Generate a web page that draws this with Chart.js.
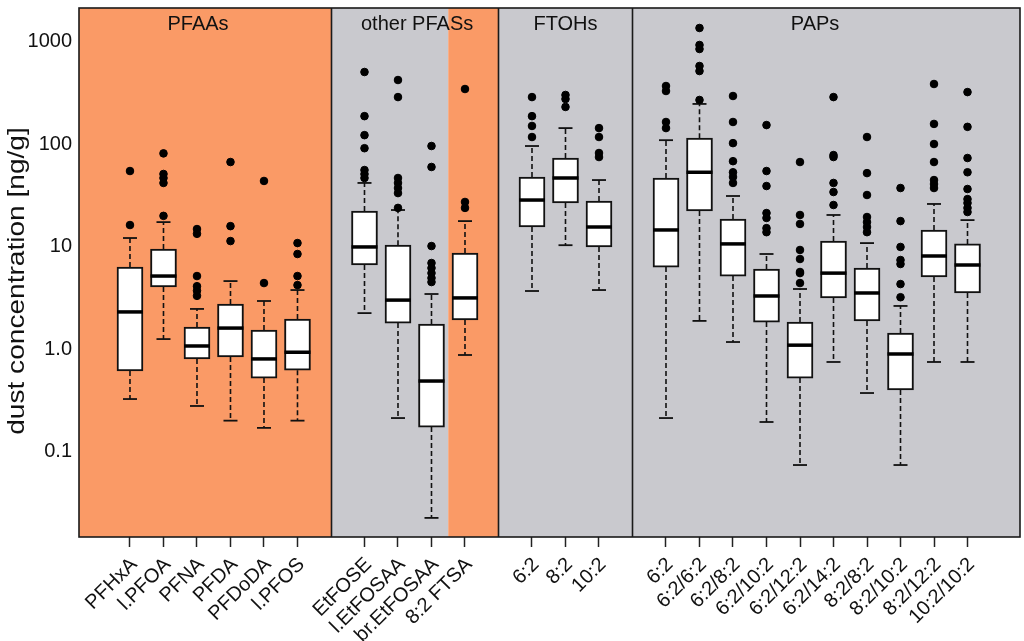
<!DOCTYPE html>
<html>
<head>
<meta charset="utf-8">
<script src="https://cdn.jsdelivr.net/npm/chart.js@4/dist/chart.umd.min.js"></script>
<style>
    html, body { margin: 0; padding: 0; background: #fff; }
    #wrap { width: 1024px; height: 641px; }
</style>
</head>
<body>
<div id="wrap"><canvas id="chart" width="1024" height="641"></canvas></div>
<script>
// compounds and their slot on the x axis (gaps between groups)
const labels = ["PFHxA", "l.PFOA", "PFNA", "PFDA", "PFDoDA", "l.PFOS",
    "EtFOSE", "l.EtFOSAA", "br.EtFOSAA", "8:2 FTSA",
    "6:2", "8:2", "10:2",
    "6:2", "6:2/6:2", "6:2/8:2", "6:2/10:2", "6:2/12:2", "6:2/14:2", "8:2/8:2", "8:2/10:2", "8:2/12:2", "10:2/10:2"];
const positions = [1, 2, 3, 4, 5, 6, 8, 9, 10, 11, 13, 14, 15, 17, 18, 19, 20, 21, 22, 23, 24, 25, 26];

// box statistics, ng/g
const whiskerLow = [0.325, 1.25, 0.278, 0.2, 0.17, 0.2, 2.24, 0.212, 0.0225, 0.874, 3.68, 10.3, 3.76, 0.212, 1.88, 1.17, 0.194, 0.0738, 0.747, 0.372, 0.0738, 0.747, 0.747];
const q1 = [0.61, 4.03, 0.80, 0.835, 0.52, 0.62, 6.6, 1.79, 0.173, 1.92, 15.5, 26.6, 9.9, 6.3, 22.2, 5.15, 1.83, 0.52, 3.15, 1.88, 0.398, 5.04, 3.52];
const median = [2.3, 5.15, 1.07, 1.6, 0.80, 0.93, 9.9, 3.0, 0.487, 3.15, 28.4, 46.6, 15.5, 14.5, 53, 10.6, 3.29, 1.09, 5.5, 3.52, 0.894, 8.08, 6.6];
const q3 = [6.3, 9.45, 1.64, 2.75, 1.53, 1.96, 22.2, 10.3, 1.75, 8.64, 47.7, 73, 27.8, 46.6, 114, 18.5, 6.03, 1.83, 11.3, 6.17, 1.43, 14.5, 10.6];
const whiskerHigh = [12.1, 17.3, 2.46, 4.6, 2.94, 3.76, 41.7, 22.7, 3.44, 17.7, 95.6, 143, 44.5, 109, 246, 31.1, 8.45, 3.85, 20.3, 10.8, 2.63, 26, 18.1];
const outliers = [
    [54.5, 16.2],
    [81, 51, 46.6, 41.7, 19.9],
    [14.8, 13.3, 5.15, 4.1, 3.7, 3.3],
    [66.7, 15.8, 11.3],
    [43.6, 4.4],
    [10.8, 8.45, 5.15, 4.2],
    [504, 187, 122, 91, 55.7, 50.9, 46.6],
    [421, 287, 46.6, 41.7, 37.2, 33.2, 23.8],
    [95.6, 59.7, 10.1, 6.9, 6.17, 5.5, 4.93, 4.5],
    [344, 27.2, 23.8],
    [287, 187, 150, 117],
    [301, 275, 230],
    [143, 117, 81.7, 74.6],
    [368, 329, 164, 143],
    [1355, 925, 845, 577, 515, 269],
    [294, 164, 102, 68, 53, 47.7, 41.7],
    [153, 54.5, 38.9, 21.2, 19, 15.1, 13.8],
    [66.7, 20.3, 16.6, 9.25, 7.55, 5.64, 5.5, 4.4],
    [287, 78, 74.6, 41.7, 34, 25.4],
    [117, 52, 31.8, 19.4, 17.3, 15.5, 13.8],
    [37.2, 17.7, 9.9, 7.38, 6.75, 4.3, 3.2],
    [385, 157, 100, 66.7, 44.5, 40.7, 37.2],
    [321, 147, 73, 53, 36.4, 29, 26.6, 23.8, 21.7]
];

// y ticks
const yTicks = [0.1, 1, 10, 100, 1000];
const yTickLabels = ["0.1", "1.0", "10", "100", "1000"];
const yTitle = "dust concentration [ng/g]";

// compound groups
const groupNames = ["PFAAs", "other PFASs", "FTOHs", "PAPs"];
const groupLabelX = [3.03, 9.57, 14.0, 21.45];
const bandFrom = [-0.522, 7, 10.5, 12, 16];
const bandTo = [7, 10.5, 12, 16, 27.567];
const bandKind = ["orange", "gray", "orange", "gray", "gray"];
const separators = [7, 12, 16];

const ORANGE = "#fa9a66";
const GRAY = "#c9c9ce";
const FONT = "'Liberation Sans', Arial, Helvetica, sans-serif";

const boxData = positions.map((x, i) => ({ x, y: [q1[i], q3[i]] }));
const medianData = positions.map((x, i) => ({ x, y: median[i] }));
const capData = positions.flatMap((x, i) => [{ x, y: whiskerLow[i] }, { x, y: whiskerHigh[i] }]);
const whiskerData = positions.flatMap((x, i) => [
    { x, y: q3[i] }, { x, y: whiskerHigh[i] }, { x, y: null },
    { x, y: q1[i] }, { x, y: whiskerLow[i] }, { x, y: null }
]);
const outlierData = positions.flatMap((x, i) => outliers[i].map(v => ({ x, y: v })));

const panels = {
    id: "panels",
    beforeDatasetsDraw(chart) {
        const { ctx, chartArea: a, scales: { x } } = chart;
        ctx.save();
        bandFrom.forEach((f, i) => {
            const l = Math.max(x.getPixelForValue(f), a.left);
            const r = Math.min(x.getPixelForValue(bandTo[i]), a.right);
            ctx.fillStyle = bandKind[i] === "orange" ? ORANGE : GRAY;
            ctx.fillRect(l, a.top, r - l, a.bottom - a.top);
        });
        ctx.strokeStyle = "#1a1a1a";
        ctx.lineWidth = 1.6;
        separators.forEach(s => {
            const px = Math.round(x.getPixelForValue(s)) + 0.5;
            ctx.beginPath();
            ctx.moveTo(px, a.top);
            ctx.lineTo(px, a.bottom);
            ctx.stroke();
        });
        ctx.strokeRect(a.left, a.top, a.right - a.left, a.bottom - a.top);

        ctx.fillStyle = "#111";
        ctx.font = "20px " + FONT;
        ctx.textAlign = "center";
        ctx.textBaseline = "middle";
        groupNames.forEach((g, i) => ctx.fillText(g, x.getPixelForValue(groupLabelX[i]), a.top + 16));

        // y axis title (a little stretched along its length, like the original)
        ctx.translate(17, 281);
        ctx.rotate(-Math.PI / 2);
        ctx.scale(1.17, 1);
        ctx.font = "24px " + FONT;
        ctx.fillText(yTitle, 0, 0);
        ctx.restore();
    }
};

new Chart(document.getElementById("chart"), {
    type: "bar",
    data: {
        datasets: [
            {
                type: "scatter",
                data: outlierData,
                backgroundColor: "#000",
                borderColor: "#000",
                pointRadius: 3.8,
                order: 0
            },
            {
                type: "scatter",
                data: medianData,
                pointStyle: "line",
                pointRadius: 13,
                borderColor: "#000",
                borderWidth: 3.5,
                order: 1
            },
            {
                type: "bar",
                data: boxData,
                backgroundColor: "#fff",
                borderColor: "#111",
                borderWidth: 2,
                borderSkipped: false,
                barThickness: 26,
                order: 2
            },
            {
                type: "scatter",
                data: capData,
                pointStyle: "line",
                pointRadius: 7,
                borderColor: "#111",
                borderWidth: 1.8,
                order: 3
            },
            {
                type: "line",
                data: whiskerData,
                borderColor: "#111",
                borderWidth: 1.6,
                borderDash: [5, 3],
                pointRadius: 0,
                spanGaps: false,
                order: 4
            }
        ]
    },
    options: {
        responsive: false,
        animation: false,
        events: [],
        layout: { autoPadding: false, padding: { left: 0, top: 8, right: 4, bottom: 0 } },
        plugins: { legend: { display: false }, tooltip: { enabled: false } },
        scales: {
            x: {
                type: "linear",
                min: -0.522,
                max: 27.567,
                bounds: "data",
                offset: false,
                border: { display: false },
                grid: { offset: false, drawOnChartArea: false, drawTicks: true, tickLength: 10, tickWidth: 1.5, tickColor: "#222" },
                afterDataLimits: (scale) => { scale.min = -0.522; scale.max = 27.567; },
                afterBuildTicks: (scale) => { scale.ticks = positions.map(v => ({ value: v })); },
                afterFit: (scale) => { scale.height = 104; scale.paddingLeft = 0; scale.paddingRight = 0; },
                ticks: {
                    autoSkip: false,
                    minRotation: 45,
                    maxRotation: 45,
                    padding: 6,
                    labelOffset: 4,
                    color: "#111",
                    font: { family: FONT, size: 20 },
                    callback: (v, i) => labels[i]
                }
            },
            y: {
                type: "logarithmic",
                min: 0.01465,
                max: 2123,
                bounds: "data",
                border: { display: false },
                grid: { display: false, drawTicks: false },
                afterBuildTicks: (scale) => { scale.ticks = yTicks.map(v => ({ value: v })); },
                afterFit: (scale) => { scale.width = 79; scale.paddingTop = 0; scale.paddingBottom = 0; },
                ticks: {
                    padding: 7,
                    color: "#111",
                    font: { family: FONT, size: 20 },
                    callback: (v, i) => yTickLabels[i]
                }
            }
        }
    },
    plugins: [panels]
});
</script>
</body>
</html>
